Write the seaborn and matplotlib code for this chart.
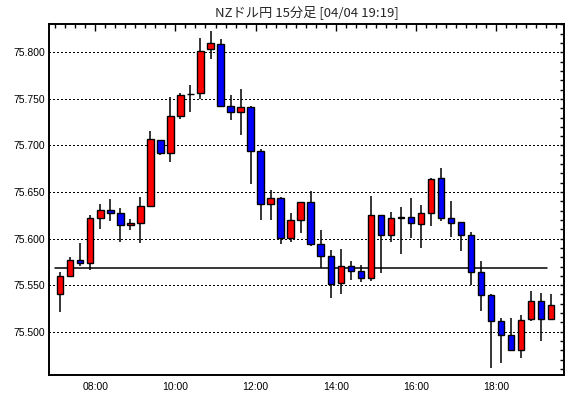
import matplotlib
matplotlib.use("Agg")
import matplotlib.pyplot as plt
import seaborn as sns
import pandas as pd
import numpy as np
from matplotlib.ticker import MultipleLocator, FuncFormatter

# ---- data ----
times = ["07:00", "07:15", "07:30", "07:45", "08:00", "08:15", "08:30", "08:45",
         "09:00", "09:15", "09:30", "09:45", "10:00", "10:15", "10:30", "10:45",
         "11:00", "11:15", "11:30", "11:45", "12:00", "12:15", "12:30", "12:45",
         "13:00", "13:15", "13:30", "13:45", "14:00", "14:15", "14:30", "14:45",
         "15:00", "15:15", "15:30", "15:45", "16:00", "16:15", "16:30", "16:45",
         "17:00", "17:15", "17:30", "17:45", "18:00", "18:15", "18:30", "18:45",
         "19:00", "19:15"]
opens = [75.5407, 75.5600, 75.5771, 75.5739, 75.6221, 75.6307, 75.6275, 75.6146,
         75.6168, 75.6350, 75.7057, 75.6918, 75.7314, 75.7550, 75.7561, 75.8032,
         75.8086, 75.7421, 75.7357, 75.7411, 75.6939, 75.6371, 75.6436, 75.6007,
         75.6200, 75.6393, 75.5943, 75.5814, 75.5525, 75.5707, 75.5654, 75.5579,
         75.6254, 75.6036, 75.6225, 75.6232, 75.6154, 75.6275, 75.6650, 75.6218,
         75.6179, 75.6036, 75.5639, 75.5393, 75.5114, 75.4968, 75.4804, 75.5136,
         75.5329, 75.5136]
highs = [75.5643, 75.5804, 75.5957, 75.6257, 75.6375, 75.6425, 75.6329, 75.6211,
         75.6450, 75.7157, 75.7060, 75.7518, 75.7564, 75.7650, 75.8150, 75.8229,
         75.8143, 75.7543, 75.7607, 75.7421, 75.6961, 75.6525, 75.6446, 75.6279,
         75.6393, 75.6514, 75.6096, 75.5882, 75.5889, 75.5754, 75.5711, 75.6461,
         75.6254, 75.6289, 75.6343, 75.6436, 75.6364, 75.6646, 75.6761, 75.6407,
         75.6179, 75.6071, 75.5764, 75.5404, 75.5150, 75.5143, 75.5175, 75.5432,
         75.5411, 75.5400]
lows = [75.5211, 75.5586, 75.5704, 75.5661, 75.6100, 75.6186, 75.5961, 75.6089,
        75.5950, 75.6339, 75.6896, 75.6818, 75.7286, 75.7364, 75.7504, 75.7932,
        75.7411, 75.7268, 75.7107, 75.6582, 75.6204, 75.6196, 75.5939, 75.5961,
        75.6057, 75.5918, 75.5686, 75.5361, 75.5404, 75.5554, 75.5532, 75.5543,
        75.5629, 75.5961, 75.5832, 75.6004, 75.5896, 75.6132, 75.6186, 75.6021,
        75.5864, 75.5500, 75.5221, 75.4611, 75.4668, 75.4793, 75.4718, 75.5114,
        75.4900, 75.5136]
closes = [75.5600, 75.5771, 75.5739, 75.6218, 75.6307, 75.6275, 75.6146, 75.6168,
          75.6350, 75.7068, 75.6918, 75.7311, 75.7546, 75.7556, 75.8018, 75.8096,
          75.7421, 75.7357, 75.7411, 75.6936, 75.6371, 75.6436, 75.6007, 75.6200,
          75.6393, 75.5943, 75.5814, 75.5514, 75.5707, 75.5654, 75.5579, 75.6254,
          75.6036, 75.6218, 75.6228, 75.6164, 75.6275, 75.6639, 75.6218, 75.6164,
          75.6036, 75.5639, 75.5393, 75.5114, 75.4968, 75.4804, 75.5125, 75.5329,
          75.5136, 75.5289]
ref_level = 75.568
title_text = "NZドル円 15分足 [04/04 19:19]"
y_ticks = [75.500, 75.550, 75.600, 75.650, 75.700, 75.750, 75.800]
x_tick_labels = ["08:00", "10:00", "12:00", "14:00", "16:00", "18:00"]

# ---- frame ----
df = pd.DataFrame({"time": times, "open": opens, "high": highs,
                   "low": lows, "close": closes})
hm = df["time"].str.split(":", expand=True).astype(int)
df["x"] = hm[0] + hm[1] / 60.0 + 0.125  # bar centre within its 15-min interval
df["up"] = df["close"] >= df["open"]
df["body_lo"] = df[["open", "close"]].min(axis=1)
df["body_h"] = (df["close"] - df["open"]).abs().clip(lower=0.0004)

sns.set_style("white")
plt.rcParams["font.family"] = ["Liberation Sans", "DejaVu Sans"]
plt.rcParams["lines.scale_dashes"] = False

fig = plt.figure(figsize=(5.70, 3.98), dpi=100)
ax = fig.add_axes([49 / 570, 1 - 375 / 398, (564 - 49) / 570, (375 - 24) / 398])

# reference level line
ref_df = pd.DataFrame({"x": [df["x"].iloc[0] - 0.125, df["x"].iloc[-1] - 0.1],
                       "y": [ref_level, ref_level]})
sns.lineplot(data=ref_df, x="x", y="y", color="black", lw=1.1, ax=ax, zorder=2)

# wicks
ax.vlines(df["x"], df["low"], df["high"], color="black", lw=1.1, zorder=3)
# bodies
colors = np.where(df["up"], "#ff0000", "#0000ff")
ax.bar(df["x"], df["body_h"], bottom=df["body_lo"], width=0.16,
       color=colors, edgecolor="black", linewidth=1.0, zorder=4)

ax.set_xlim(6.8445, 19.697)
ax.set_ylim(75.4535, 75.8304)

ax.yaxis.set_major_locator(MultipleLocator(0.05))
ax.yaxis.set_minor_locator(MultipleLocator(0.01))
ax.yaxis.set_major_formatter(FuncFormatter(lambda v, p: f"{v:.3f}"))
ax.set_xticks([8, 10, 12, 14, 16, 18])
ax.set_xticklabels(x_tick_labels)
ax.xaxis.set_minor_locator(MultipleLocator(0.25))

ax.grid(False)
for yv in y_ticks:
    ax.axhline(yv, color="black", lw=0.8, linestyle=(0, (0.75, 1.5)), zorder=1,
               antialiased=False)

ax.tick_params(axis="both", which="both", direction="in", colors="black",
               labelsize=7.5, width=1.0, top=True, right=True)
ax.tick_params(axis="y", which="major", length=3, pad=3)
ax.tick_params(axis="y", which="minor", length=3)
ax.tick_params(axis="x", which="major", length=5, pad=5)
ax.tick_params(axis="x", which="minor", length=3)
ax.tick_params(axis="both", which="both", labelright=False, labeltop=False)

for s in ax.spines.values():
    s.set_visible(True)
    s.set_color("black")
    s.set_linewidth(1.4)

ax.set_xlabel("")
ax.set_ylabel("")
legend = ax.get_legend()
if legend:
    legend.remove()

fig.text((49 + 564) / 2 / 570, 1 - 12 / 398, title_text, ha="center", va="center",
         fontsize=9.5, family=["Noto Sans CJK JP", "DejaVu Sans"])

fig.savefig("out.png", dpi=100, facecolor="white")
